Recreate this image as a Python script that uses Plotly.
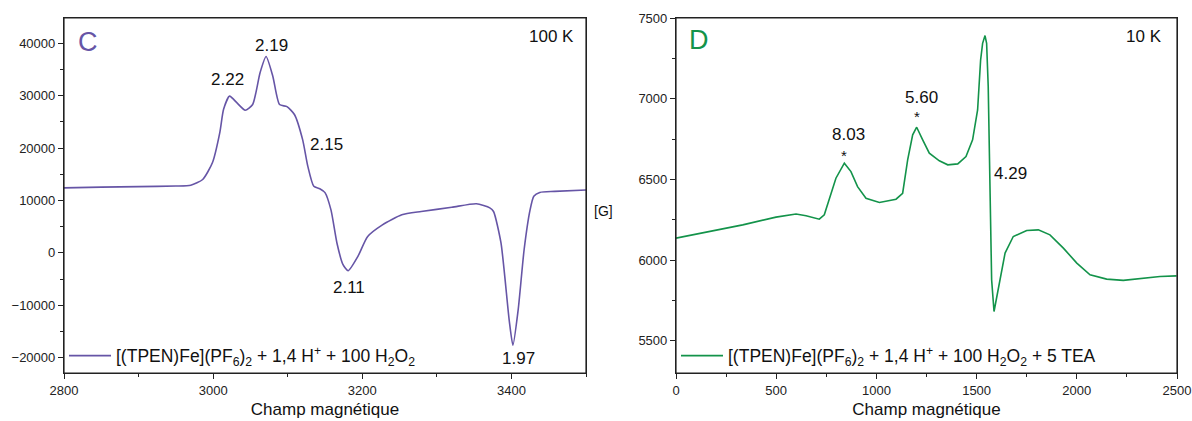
import plotly.graph_objects as go

# ---- Panel C data (100 K) ----
c_field = [2800, 2850, 2900, 2950, 2970, 2986, 2999, 3009, 3014, 3022, 3032, 3043, 3053, 3063,
           3071, 3080, 3089, 3099, 3109, 3120, 3127, 3135, 3143, 3150, 3158, 3166, 3174, 3181,
           3194, 3207, 3227, 3253, 3279, 3320, 3353, 3371, 3376, 3386, 3397, 3402, 3409, 3417,
           3425, 3430, 3438, 3458, 3500]
c_signal = [12400, 12550, 12650, 12750, 12900, 14000, 17200, 23000, 27400, 29900, 28600, 27200, 28300, 34400,
            37450, 33700, 28300, 27900, 26400, 21600, 16500, 12700, 12250, 11500, 8200, 1900, -2200, -3400,
            -700, 3100, 5350, 7270, 7900, 8700, 9380, 8600, 7900, 1900, -12800, -17600, -10900, 600,
            8200, 10800, 11540, 11730, 12000]
c_labels = ["2.22", "2.19", "2.15", "2.11", "1.97"]

# ---- Panel D data (10 K) ----
d_field = [0, 166, 333, 499, 599, 649, 715, 740, 765, 798, 840, 873, 906, 948, 1015, 1098, 1131,
           1156, 1181, 1201, 1231, 1264, 1314, 1356, 1406, 1447, 1480, 1505, 1520, 1530, 1542, 1550,
           1558, 1567, 1575, 1587, 1609, 1642, 1683, 1750, 1808, 1866, 1933, 2000, 2066, 2149, 2232,
           2332, 2415, 2498]
d_signal = [6136, 6177, 6218, 6266, 6285, 6274, 6253, 6280, 6373, 6507, 6600, 6548, 6455, 6383, 6357, 6377, 6414,
            6621, 6776, 6823, 6745, 6662, 6615, 6590, 6596, 6641, 6745, 6930, 7240, 7343, 7391, 7343,
            7075, 6456, 5878, 5681, 5836, 6043, 6146, 6183, 6187, 6156, 6074, 5981, 5909, 5882, 5874,
            5888, 5898, 5902]
d_labels = ["8.03", "5.60", "4.29"]

purple = "#6655A6"
green = "#13934A"
font_family = "Liberation Sans, Arial, sans-serif"

fig = go.Figure()
fig.add_trace(go.Scatter(
    x=c_field, y=c_signal, mode="lines", line=dict(color=purple, width=1.6, shape="spline", smoothing=0.6),
    name="[(TPEN)Fe](PF<sub>6</sub>)<sub>2</sub> + 1,4 H<sup>+</sup> + 100 H<sub>2</sub>O<sub>2</sub>",
    xaxis="x", yaxis="y", legend="legend"))
fig.add_trace(go.Scatter(
    x=d_field, y=d_signal, mode="lines", line=dict(color=green, width=1.6),
    name="[(TPEN)Fe](PF<sub>6</sub>)<sub>2</sub> + 1,4 H<sup>+</sup> + 100 H<sub>2</sub>O<sub>2</sub> + 5 TEA",
    xaxis="x2", yaxis="y2", legend="legend2"))

def axis_common():
    return dict(showgrid=False, zeroline=False, showline=True, linecolor="#222", linewidth=1.2,
                mirror=True, ticks="outside", ticklen=5, tickcolor="#222", tickwidth=1,
                automargin=False, tickformat="d",
                tickfont=dict(size=13, color="#222", family=font_family))

fig.update_layout(
    template="none",
    width=1192, height=421, margin=dict(l=0, r=0, t=0, b=0, pad=0, autoexpand=False),
    paper_bgcolor="white", plot_bgcolor="white",
    font=dict(family=font_family, color="#111"),
    xaxis=dict(domain=[64/1192, 586/1192], range=[2800, 3500], dtick=200, anchor="y",
               minor=dict(dtick=100, ticklen=3, ticks="outside", tickcolor="#222"),
               title=dict(text="Champ magnétique", font=dict(size=17), standoff=6), **axis_common()),
    yaxis=dict(domain=[48/421, 403/421], range=[-22900, 44800], dtick=10000, anchor="x",
               minor=dict(dtick=5000, ticklen=3, ticks="outside", tickcolor="#222"), **axis_common()),
    xaxis2=dict(domain=[676/1192, 1177/1192], range=[0, 2500], dtick=500, anchor="y2",
                minor=dict(dtick=250, ticklen=3, ticks="outside", tickcolor="#222"),
                title=dict(text="Champ magnétique", font=dict(size=17), standoff=6), **axis_common()),
    yaxis2=dict(domain=[48/421, 403/421], range=[5300, 7500], dtick=500, anchor="x2",
                minor=dict(dtick=250, ticklen=3, ticks="outside", tickcolor="#222"), **axis_common()),
    legend=dict(x=64/1192, y=0.155, xanchor="left", yanchor="middle", bgcolor="rgba(0,0,0,0)",
                font=dict(size=17.5, color="#111"), itemwidth=42, borderwidth=0),
    legend2=dict(x=676/1192, y=0.155, xanchor="left", yanchor="middle", bgcolor="rgba(0,0,0,0)",
                 font=dict(size=17.5, color="#111"), itemwidth=42, borderwidth=0),
    showlegend=True,
)

# panel frames
for xr, yr in [("x", "y"), ("x2", "y2")]:
    fig.add_shape(type="rect", xref=f"{xr} domain", yref=f"{yr} domain", x0=0, x1=1, y0=0, y1=1,
                  line=dict(color="#222", width=1.2), fillcolor="rgba(0,0,0,0)", layer="above")

ann = []
def a(text, x, y, size=17, color="#111"):
    ann.append(dict(text=text, x=x, y=y, xref="paper", yref="paper", showarrow=False,
                    font=dict(size=size, color=color, family=font_family), xanchor="center", yanchor="middle"))

def px(xp, yp):
    return xp/1192, 1 - yp/421

# Panel C
a("C", *px(88, 42), size=27, color=purple)
a("100 K", *px(551, 37), size=17)
for lab, (xp, yp) in zip(c_labels, [(227, 80), (271, 45), (326, 144), (349, 287), (518, 358)]):
    a(lab, *px(xp, yp))
a("[G]", *px(603, 211), size=14)
# Panel D
a("D", *px(699, 40), size=27, color=green)
a("10 K", *px(1144, 37), size=17)
for lab, (xp, yp) in zip(d_labels, [(848, 135), (921, 97), (1010, 173)]):
    a(lab, *px(xp, yp))
a("*", *px(844, 155), size=15)
a("*", *px(917, 116), size=15)

fig.update_layout(annotations=ann)
fig.write_html("out.html", config={"displayModeBar": False},
               post_script="document.body.style.margin='0px';")
